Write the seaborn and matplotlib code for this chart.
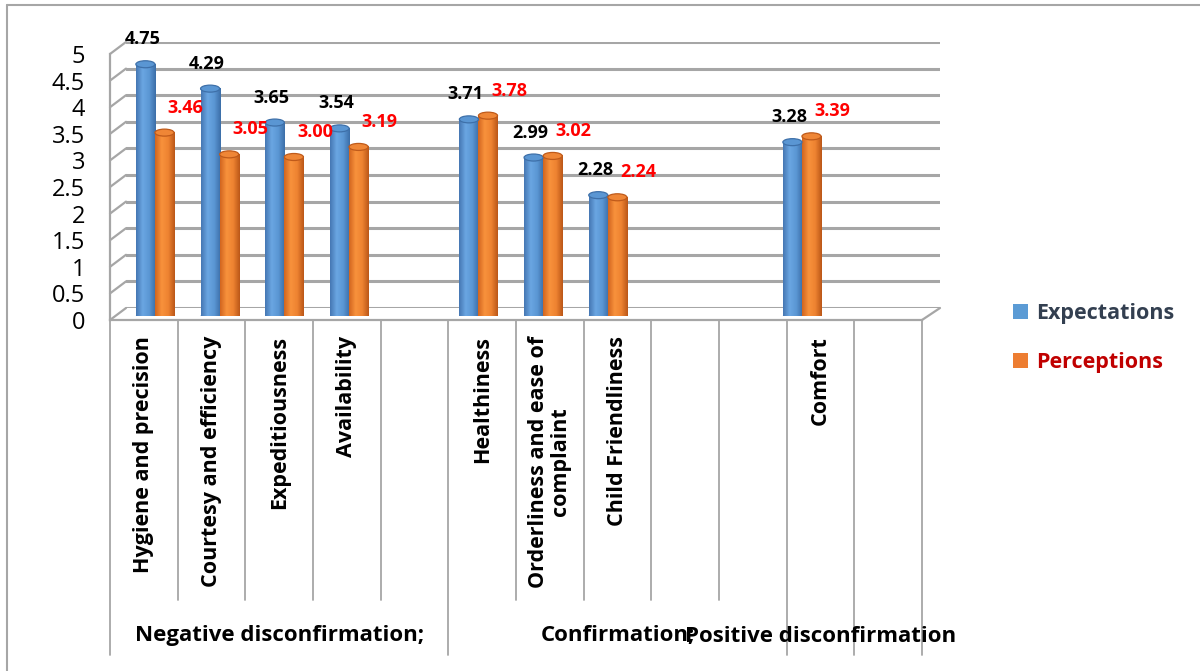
import numpy as np
import pandas as pd
import matplotlib
matplotlib.use("Agg")
import matplotlib.pyplot as plt
import matplotlib.transforms as mtransforms
from matplotlib.patches import Ellipse, Patch
from matplotlib.lines import Line2D
from matplotlib.colors import LinearSegmentedColormap
import seaborn as sns

# ---- data -------------------------------------------------------------
axis_labels = ["Hygiene and precision", "Courtesy and efficiency", "Expeditiousness",
               "Availability", None, "Healthiness",
               "Orderliness and ease of\ncomplaint", "Child Friendliness", None, None,
               "Comfort", None]
expectations = [4.75, 4.29, 3.65, 3.54, 3.71, 2.99, 2.28, 3.28]
perceptions = [3.46, 3.05, 3.00, 3.19, 3.78, 3.02, 2.24, 3.39]
series_names = ["Expectations", "Perceptions"]
group_names = ["Negative disconfirmation;", "Confirmation;", "Positive disconfirmation"]
group_sizes = [5, 5, 1, 1]
y_ticks = [0, 0.5, 1, 1.5, 2, 2.5, 3, 3.5, 4, 4.5, 5]

slots = [i for i, lab in enumerate(axis_labels) if lab]
criteria = [axis_labels[i] for i in slots]
n_slots = len(axis_labels)

df = pd.DataFrame({
    "slot": slots * 2,
    "criterion": criteria * 2,
    "series": [series_names[0]] * len(slots) + [series_names[1]] * len(slots),
    "score": expectations + perceptions,
})

# ---- styling ----------------------------------------------------------
sns.set_theme(style="white")
plt.rcParams["font.family"] = ["Open Sans", "DejaVu Sans"]

BLUE = "#5B9BD5"
ORANGE = "#ED7D31"
GRID = "#A6A6A6"
W, H = 1200, 671

fig = plt.figure(figsize=(W / 100, H / 100), dpi=100)


def px_axes(left, right, y0, y5):
    ax = fig.add_axes([left / W, 1 - y0 / H, (right - left) / W, (y0 - y5) / H])
    ax.set_xlim(-0.5, n_slots - 0.5)
    ax.set_ylim(0, 5)
    ax.patch.set_alpha(0)
    return ax


def fx(px):
    return px / W


def fy(py):
    return 1 - py / H


# back wall with horizontal gridlines
ax_back = px_axes(126, 940, 308, 42)
ax_back.set_yticks(y_ticks)
ax_back.yaxis.grid(True, color=GRID, lw=2.2)
ax_back.set_xticks([])
ax_back.tick_params(left=False, labelleft=False)
for s in ax_back.spines.values():
    s.set_visible(False)

# front plane: value axis, floor edge, category axis
ax_front = px_axes(110, 922, 320, 54)
ax_front.set_yticks(y_ticks)
ax_front.set_yticklabels([f"{t:g}" for t in y_ticks], fontsize=17, color="#000000")
ax_front.tick_params(axis="y", length=6, width=1.2, color=GRID, pad=12, direction="out")
ax_front.set_xticks([])
for name, s in ax_front.spines.items():
    s.set_visible(name in ("left", "bottom"))
    s.set_color(GRID)
    s.set_linewidth(1.6)

# depth edges joining front value ticks to the back wall
for t in y_ticks:
    y_f = 320 - t * (320 - 54) / 5
    y_b = 308 - t * (308 - 42) / 5
    fig.add_artist(Line2D([fx(110), fx(126)], [fy(y_f), fy(y_b)], color=GRID, lw=1.6))
fig.add_artist(Line2D([fx(922), fx(940)], [fy(320), fy(308)], color=GRID, lw=1.6))

# category separators and labels
blend = mtransforms.blended_transform_factory(ax_front.transData, fig.transFigure)
group_edges = np.cumsum([0] + group_sizes)
for k in range(n_slots + 1):
    bottom = 655 if k in group_edges else 600
    ax_front.add_line(Line2D([k - 0.5, k - 0.5], [fy(320), fy(bottom)], transform=blend,
                             color=GRID, lw=1.3, clip_on=False))
for i, lab in enumerate(axis_labels):
    if lab:
        ax_front.text(i, fy(336), lab, transform=blend, rotation=90, ha="center", va="top",
                      multialignment="center", linespacing=1.05,
                      fontsize=15.5, fontweight="bold", color="#000000")
for g, name in enumerate(group_names):
    centre = (group_edges[g] + group_edges[g + 1]) / 2 - 0.5
    ax_front.text(centre, fy(636), name, transform=blend, ha="center", va="center",
                  fontsize=16, fontweight="bold", color="#000000")

# bars sit at mid depth
ax_bar = px_axes(122.6, 899.0, 316, 51)
sns.barplot(data=df, x="slot", y="score", hue="series", hue_order=series_names,
            palette=[BLUE, ORANGE], native_scale=True, width=0.59, errorbar=None,
            linewidth=0, ax=ax_bar, legend=False)

cmaps = [
    LinearSegmentedColormap.from_list("cyl_b", ["#4577B3", "#6AA6E2", "#5B97D4", "#3C6EA8"]),
    LinearSegmentedColormap.from_list("cyl_o", ["#D2651F", "#F8923C", "#EE8331", "#BB5718"]),
]
caps = [("#5A96D3", "#3E70A9"), ("#EF8636", "#BF5A1A")]
grad = np.linspace(0, 1, 64).reshape(1, -1)
cap_h = 7 / 53

for ci, cont in enumerate(ax_bar.containers):
    for bar in cont:
        x0, w, h = bar.get_x(), bar.get_width(), bar.get_height()
        bar.set_alpha(0)
        ax_bar.imshow(grad, extent=[x0, x0 + w, 0, h], aspect="auto", cmap=cmaps[ci],
                      zorder=3, interpolation="bilinear")
        ax_bar.add_patch(Ellipse((x0 + w / 2, 0), w, cap_h, facecolor=cmaps[ci](0.55),
                                 edgecolor="none", zorder=2.9))
        ax_bar.add_patch(Ellipse((x0 + w / 2, h), w, cap_h, facecolor=caps[ci][0],
                                 edgecolor=caps[ci][1], lw=0.9, zorder=3.2))

# value labels
for bar in ax_bar.containers[0]:
    h = bar.get_height()
    ax_bar.annotate(f"{h:.2f}", xy=(bar.get_x() + bar.get_width() / 2, h),
                    xytext=(-3, 25), textcoords="offset pixels", ha="center", va="center",
                    fontsize=13, fontweight="bold", color="#000000", zorder=5)
for bar in ax_bar.containers[1]:
    h = bar.get_height()
    ax_bar.annotate(f"{h:.2f}", xy=(bar.get_x() + bar.get_width() / 2, h),
                    xytext=(21, 25), textcoords="offset pixels", ha="center", va="center",
                    fontsize=13, fontweight="bold", color="#FF0000", zorder=5)

ax_bar.set_xlim(-0.5, n_slots - 0.5)
ax_bar.set_ylim(0, 5)
ax_bar.axis("off")

# legend
handles = [Patch(facecolor=BLUE, edgecolor="none"), Patch(facecolor=ORANGE, edgecolor="none")]
leg = fig.legend(handles, series_names, loc="center left", bbox_to_anchor=(fx(994), fy(338)),
                 frameon=False, handlelength=0.7, handleheight=0.7, handletextpad=0.35,
                 labelspacing=1.3, prop={"size": 15.5, "weight": "bold"})
for txt, col in zip(leg.get_texts(), ["#333F50", "#C00000"]):
    txt.set_color(col)

# chart area outline
fig.add_artist(Line2D([fx(7), fx(7)], [fy(5), 0], color=GRID, lw=1.5))
fig.add_artist(Line2D([fx(7), 1], [fy(5), fy(5)], color=GRID, lw=1.5))

fig.savefig("out.png", dpi=100)
